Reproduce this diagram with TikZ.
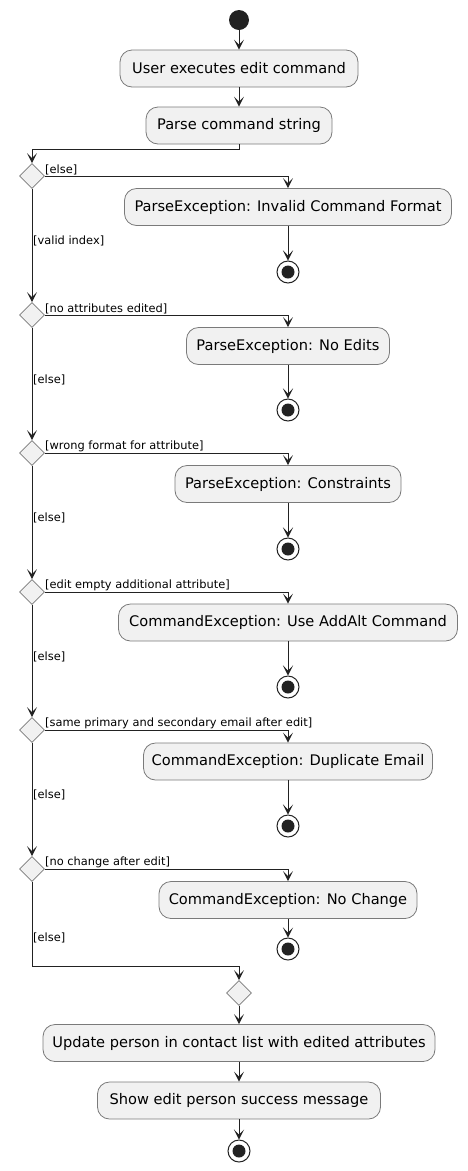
\documentclass[tikz,border=0pt]{standalone}
\usepackage{fontspec}
\setmainfont{DejaVu Sans}
\usetikzlibrary{arrows.meta,shapes.geometric}
\definecolor{boxfill}{HTML}{F1F1F1}
\definecolor{boxline}{HTML}{7A7A7A}
\definecolor{ink}{HTML}{222222}

\begin{document}
\begin{tikzpicture}[x=1pt, y=-1pt,
    act/.style={draw=boxline, fill=boxfill, line width=0.8pt, rounded corners=12pt,
                minimum height=37pt, inner xsep=0pt, font=\fontsize{14.6}{16}\selectfont},
    choice/.style={diamond, aspect=1, draw=boxline, fill=boxfill, line width=0.8pt,
                   minimum width=25pt, minimum height=25pt, inner sep=0pt},
    guard/.style={inner sep=0pt, font=\fontsize{11.4}{13}\selectfont},
    begin/.style={circle, fill=ink, minimum size=20pt, inner sep=0pt},
    final/.style={circle, draw=ink, fill=white, line width=1pt, minimum size=22pt, inner sep=0pt,
                  path picture={\fill[ink] (path picture bounding box.center) circle (6.5pt);}},
    flow/.style={draw=ink, line width=1pt, -{Stealth[length=10pt, width=10pt, inset=5pt]}}]
    \useasboundingbox (0,0) rectangle (468,1171);
                % Start
                \node [begin] (start) at (239, 20) {};
                \node [act, minimum width=238pt] (user) at (239, 68.5) {User executes edit command};
                \node [act, minimum width=186pt] (parse) at (239, 125.5) {Parse command string};
                \coordinate (split) at (239, 149);
                \draw [flow] (start) -- (user);
                \draw [flow] (user) -- (parse);
                % Check 1
                \node [choice] (d1) at (32, 176) {};
                \node [act, minimum width=327pt] (invalid) at (288, 207) {ParseException: Invalid Command Format};
                \node [final] (e1) at (288, 272) {};
                \node [guard, anchor=south west] (g1) at (45, 175) {[else]};
                \node [guard, anchor=west] (v1) at (33, 241) {[valid index]};
                \draw [flow] (parse) -- (split) -| (d1);
                \draw [flow] (d1) -| (invalid);
                \draw [flow] (invalid) -- (e1);
                % Check 2
                \node [choice] (d2) at (32, 315) {};
                \node [act, minimum width=203pt] (noedit) at (288, 346) {ParseException: No Edits};
                \node [final] (e2) at (288, 410) {};
                \node [guard, anchor=south west] (g2) at (45, 314) {[no attributes edited]};
                \node [guard, anchor=west] (v2) at (33, 380) {[else]};
                \draw [flow] (d1) -- (d2);
                \draw [flow] (d2) -| (noedit);
                \draw [flow] (noedit) -- (e2);
                % Check 3
                \node [choice] (d3) at (32, 453) {};
                \node [act, minimum width=226pt] (constr) at (288, 484) {ParseException: Constraints};
                \node [final] (e3) at (288, 549) {};
                \node [guard, anchor=south west] (g3) at (45, 452) {[wrong format for attribute]};
                \node [guard, anchor=west] (v3) at (33, 518) {[else]};
                \draw [flow] (d2) -- (d3);
                \draw [flow] (d3) -| (constr);
                \draw [flow] (constr) -- (e3);
                % Check 4
                \node [choice] (d4) at (32, 592) {};
                \node [act, minimum width=339pt] (addalt) at (288, 622.5) {CommandException: Use AddAlt Command};
                \node [final] (e4) at (288, 687) {};
                \node [guard, anchor=south west] (g4) at (45, 591) {[edit empty additional attribute]};
                \node [guard, anchor=west] (v4) at (33, 657) {[else]};
                \draw [flow] (d3) -- (d4);
                \draw [flow] (d4) -| (addalt);
                \draw [flow] (addalt) -- (e4);
                % Check 5
                \node [choice] (d5) at (32, 730) {};
                \node [act, minimum width=289pt] (dupl) at (288, 761.5) {CommandException: Duplicate Email};
                \node [final] (e5) at (288, 826) {};
                \node [guard, anchor=south west] (g5) at (45, 729) {[same primary and secondary email after edit]};
                \node [guard, anchor=west] (v5) at (33, 795) {[else]};
                \draw [flow] (d4) -- (d5);
                \draw [flow] (d5) -| (dupl);
                \draw [flow] (dupl) -- (e5);
                % Check 6
                \node [choice] (d6) at (32, 869) {};
                \node [act, minimum width=258pt] (nochange) at (288, 900) {CommandException: No Change};
                \node [final] (e6) at (288, 949) {};
                \node [guard, anchor=south west] (g6) at (45, 868) {[no change after edit]};
                \node [guard, anchor=west] (v6) at (33, 938) {[else]};
                \draw [flow] (d5) -- (d6);
                \draw [flow] (d6) -| (nochange);
                \draw [flow] (nochange) -- (e6);
                % Merge and finish
                \coordinate (join) at (239, 966);
                \node [choice] (merge) at (239, 993) {};
                \node [act, minimum width=392pt] (update) at (239, 1043) {Update person in contact list with edited attributes};
                \node [act, minimum width=283pt] (show) at (239, 1100.5) {Show edit person success message};
                \node [final] (e7) at (239, 1151) {};
                \draw [flow] (d6) |- (join) -- (merge);
                \draw [flow] (merge) -- (update);
                \draw [flow] (update) -- (show);
                \draw [flow] (show) -- (e7);
\end{tikzpicture}
\end{document}
